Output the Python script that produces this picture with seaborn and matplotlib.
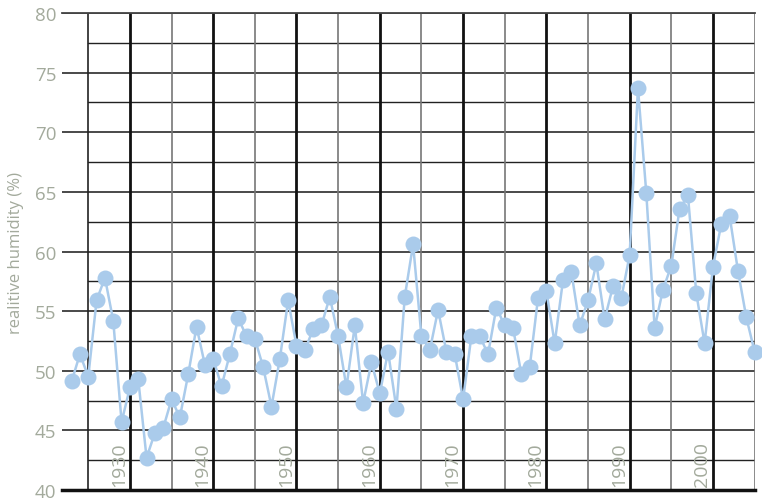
import numpy as np
import pandas as pd
import matplotlib
matplotlib.use("Agg")
import matplotlib.pyplot as plt
import seaborn as sns

# Yearly relative humidity values
years = list(range(1923, 2006))
humidity = [
    49.1, 51.4, 49.5, 55.9, 57.8, 54.2, 45.7, 48.6, 49.3, 42.7,
    44.8, 45.2, 47.6, 46.1, 49.7, 53.7, 50.5, 51.0, 48.7, 51.4,
    54.4, 52.9, 52.7, 50.3, 47.0, 51.0, 55.9, 52.1, 51.7, 53.5,
    53.8, 56.2, 52.9, 48.6, 53.8, 47.3, 50.7, 48.1, 51.6, 46.8,
    56.2, 60.6, 52.9, 51.7, 55.1, 51.6, 51.4, 47.6, 52.9, 52.9,
    51.4, 55.3, 53.8, 53.6, 49.7, 50.3, 56.1, 56.7, 52.3, 57.6,
    58.3, 53.8, 55.9, 59.0, 54.3, 57.1, 56.1, 59.7, 73.7, 64.9,
    53.6, 56.8, 58.8, 63.6, 64.7, 56.5, 52.3, 58.7, 62.3, 63.0,
    58.4, 54.5, 51.6,
]
decade_labels = ["1930", "1940", "1950", "1960", "1970", "1980", "1990", "2000"]
y_ticks = [40, 45, 50, 55, 60, 65, 70, 75, 80]

text_color = "#a3aa9c"
dot_color = "#aacbeb"

sns.set_style("white")
plt.rcParams['font.family'] = ['Open Sans', 'DejaVu Sans']

df = pd.DataFrame({"year": years, "humidity": humidity})

fig = plt.figure(figsize=(7.62, 5.02), dpi=100)
ax = fig.add_axes([0.0814, 0.0219, 0.9094, 0.9502])
ax.set_xlim(1921.85, 2005.05)
ax.set_ylim(40, 80)

# grid: horizontal majors span the width, minors start at 1925
for v in y_ticks[1:]:
    ax.axhline(v, color="#3a3a3a", lw=1.3, zorder=1)
x0 = (1925 - 1921.85) / (2005.05 - 1921.85)
for v in np.arange(42.5, 80, 5):
    ax.axhline(v, xmin=x0, color="#222222", lw=1.0, zorder=1)
for yr in range(1925, 2006, 10):
    c = "#222222" if yr == 1925 else "#777777"
    ax.axvline(yr, color=c, lw=1.2, zorder=1)
for lab in decade_labels:
    ax.axvline(int(lab), color="#111111", lw=2.0, zorder=1)

sns.lineplot(data=df, x="year", y="humidity", ax=ax, color=dot_color,
             lw=1.8, marker="o", markersize=11.5, markeredgewidth=0,
             zorder=3, clip_on=False)

for lab in decade_labels:
    ax.text(int(lab) - 0.2, 40.3, lab, rotation=90, ha="right", va="bottom",
            fontsize=14, color=text_color, zorder=2)

ax.set_xticks([int(l) for l in decade_labels] + [2005])
ax.set_xticklabels([])
ax.tick_params(axis="x", direction="out", length=6, width=2, color="#111111")
ax.set_yticks(y_ticks)
ax.tick_params(axis="y", length=0, pad=4, labelsize=13.5, labelcolor=text_color)
ax.set_xlabel("")
ax.set_ylabel("realitive humidity (%)", fontsize=12, color=text_color, labelpad=8)

for s in ["left", "right"]:
    ax.spines[s].set_visible(False)
ax.spines["top"].set_color("#444444")
ax.spines["top"].set_linewidth(1.3)
ax.spines["bottom"].set_color("#111111")
ax.spines["bottom"].set_linewidth(2.5)

fig.savefig("out.png", dpi=100)
